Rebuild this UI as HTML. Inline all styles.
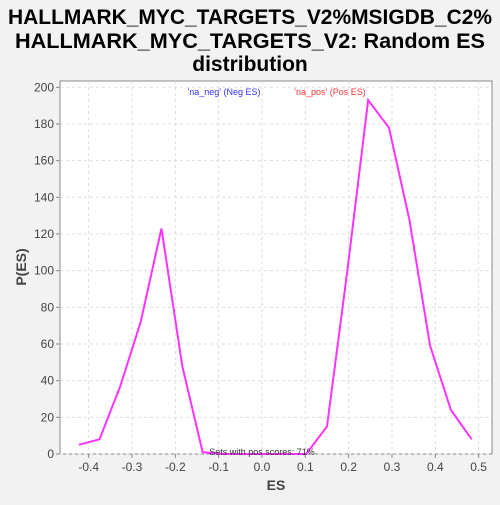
<!DOCTYPE html>
<html><head><meta charset="utf-8"><style>
body{margin:0;background:#f2f2f2;width:500px;height:500px;overflow:hidden;font-family:"Liberation Sans",sans-serif}
</style></head><body>
<svg width="500" height="500">
<text x="250" y="24" text-anchor="middle" font-size="21" font-weight="bold" textLength="484" lengthAdjust="spacingAndGlyphs">HALLMARK_MYC_TARGETS_V2%MSIGDB_C2%</text>
<text x="250" y="48" text-anchor="middle" font-size="21" font-weight="bold" textLength="470" lengthAdjust="spacingAndGlyphs">HALLMARK_MYC_TARGETS_V2: Random ES</text>
<text x="250" y="71" text-anchor="middle" font-size="21" font-weight="bold">distribution</text>
<rect x="60" y="81" width="432" height="373" fill="#fff" stroke="#888"/>
<g id="grid"></g><g id="axes"></g>
<text x="224" y="95" text-anchor="middle" font-size="9" fill="#3333ff">'na_neg' (Neg ES)</text>
<text x="330" y="95" text-anchor="middle" font-size="9" fill="#ff3333">'na_pos' (Pos ES)</text>
<polyline id="line" fill="none" stroke="#ff33ff" stroke-width="2"/>
<text x="262" y="455" text-anchor="middle" font-size="9" fill="#333">Sets with pos scores: 71%</text>
<text x="276" y="490" text-anchor="middle" font-size="14" font-weight="bold" fill="#444">ES</text>
<text transform="translate(26,267) rotate(-90)" text-anchor="middle" font-size="14" font-weight="bold" fill="#444">P(ES)</text>
</svg>
<script>
const esValues=[-0.4226,-0.375,-0.327,-0.280,-0.232,-0.184,-0.137,-0.089,-0.041,0.006,0.054,0.102,0.150,0.197,0.245,0.293,0.340,0.388,0.436,0.484];
const densities=[5,8,37,72,123,48,1,0,0,0,0,0,15,100,193,178,128,59,24,8];
const xTicks=[-0.4,-0.3,-0.2,-0.1,0.0,0.1,0.2,0.3,0.4,0.5];
const yTicks=[0,20,40,60,80,100,120,140,160,180,200];
const NS="http://www.w3.org/2000/svg";
const X=v=>262+v*433.3, Y=v=>454-v*1.8335;
const grid=document.getElementById('grid'),axes=document.getElementById('axes');
xTicks.forEach(t=>{
 const l=document.createElementNS(NS,'line');l.setAttribute('x1',X(t));l.setAttribute('x2',X(t));l.setAttribute('y1',81);l.setAttribute('y2',454);l.setAttribute('stroke','#ddd');l.setAttribute('stroke-dasharray','3,3');
 
 grid.appendChild(l);
 const k=document.createElementNS(NS,'line');k.setAttribute('x1',X(t));k.setAttribute('x2',X(t));k.setAttribute('y1',454);k.setAttribute('y2',458);k.setAttribute('stroke','#888');
 
 axes.appendChild(k);
 const s=document.createElementNS(NS,'text');s.setAttribute('x',X(t));s.setAttribute('y',471);s.setAttribute('text-anchor','middle');s.setAttribute('font-size','12');s.setAttribute('fill','#444');s.textContent=t.toFixed(1);
 
 axes.appendChild(s);
});
yTicks.forEach(t=>{
 const l=document.createElementNS(NS,'line');l.setAttribute('x1',60);l.setAttribute('x2',492);l.setAttribute('y1',Y(t));l.setAttribute('y2',Y(t));l.setAttribute('stroke','#ddd');l.setAttribute('stroke-dasharray','3,3');
 
 grid.appendChild(l);
 const k=document.createElementNS(NS,'line');k.setAttribute('x1',56);k.setAttribute('x2',60);k.setAttribute('y1',Y(t));k.setAttribute('y2',Y(t));k.setAttribute('stroke','#888');
 
 axes.appendChild(k);
 const s=document.createElementNS(NS,'text');s.setAttribute('x',54);s.setAttribute('y',Y(t)+4);s.setAttribute('text-anchor','end');s.setAttribute('font-size','12');s.setAttribute('fill','#444');s.textContent=t;
 
 axes.appendChild(s);
});
document.getElementById('line').setAttribute('points',esValues.map((v,i)=>X(v)+','+Y(densities[i])).join(' '));
</script>
</body></html>
